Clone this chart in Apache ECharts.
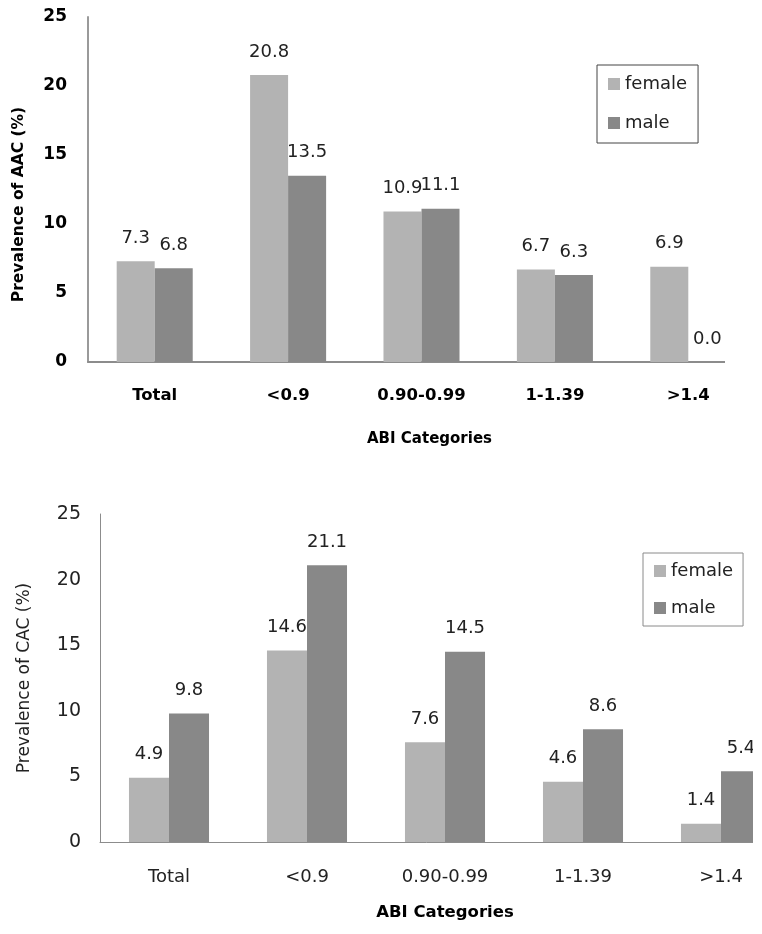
<!DOCTYPE html>
<html>
<head>
<meta charset="utf-8">
<script src="https://cdn.jsdelivr.net/npm/echarts@6/dist/echarts.min.js"></script>
<style>
  html, body { margin: 0; padding: 0; background: #fff; }
  #wrap { position: relative; width: 762px; height: 934px; overflow: hidden; }
  #chart-aac { position: absolute; left: 0; top: 0; width: 725px; height: 470px; }
  #chart-cac { position: absolute; left: 0; top: 470px; width: 753px; height: 464px; }
</style>
</head>
<body>
<div id="wrap">
  <div id="chart-aac"></div>
  <div id="chart-cac"></div>
</div>
<script>
// categories
const categoriesAAC = ['Total', '<0.9', '0.90-0.99', '1-1.39', '>1.4'];
const categoriesCAC = ['Total', '<0.9', '0.90-0.99', '1-1.39', '>1.4'];

// prevalence (%)
const aacFemale = [7.3, 20.8, 10.9, 6.7, 6.9];
const aacMale   = [6.8, 13.5, 11.1, 6.3, 0.0];
const cacFemale = [4.9, 14.6, 7.6, 4.6, 1.4];
const cacMale   = [9.8, 21.1, 14.5, 8.6, 5.4];

const FEMALE = '#b3b3b3';
const MALE = '#888888';
const FONT = 'DejaVu Sans';

function barSeries(name, data, color, gap) {
  return {
    type: 'bar', name, data,
    itemStyle: { color },
    barGap: 0,
    barCategoryGap: gap,
    label: {
      show: true, position: 'top', distance: 14,
      color: '#222', fontFamily: FONT, fontSize: 18,
      formatter: p => p.value.toFixed(1)
    }
  };
}

// 上圖：AAC（粗體字）
const chartAAC = echarts.init(document.getElementById('chart-aac'));
chartAAC.setOption({
  animation: false,
  grid: { left: 88, top: 17, width: 667, height: 345, outerBoundsMode: 'none' },
  legend: {
    orient: 'vertical', left: 597, top: 65,
    padding: [10, 11, 11, 11], itemGap: 21,
    itemWidth: 12, itemHeight: 12, icon: 'rect',
    borderColor: '#444', borderWidth: 1,
    textStyle: { fontFamily: FONT, fontSize: 18, color: '#222' },
    data: ['female', 'male']
  },
  xAxis: {
    type: 'category', data: categoriesAAC,
    axisLine: { lineStyle: { color: '#8c8c8c', width: 2 } },
    axisTick: { show: false },
    axisLabel: { margin: 25, color: '#000', fontFamily: FONT, fontWeight: 'bold', fontSize: 16.5 },
    name: 'ABI Categories', nameLocation: 'middle', nameGap: 70,
    nameTextStyle: { color: '#000', fontFamily: FONT, fontWeight: 'bold', fontSize: 15, padding: [0, 0, 0, 16] }
  },
  yAxis: {
    type: 'value', min: 0, max: 25, interval: 5,
    axisLine: { show: true, lineStyle: { color: '#9a9a9a', width: 2 } },
    axisTick: { show: false },
    splitLine: { show: false },
    axisLabel: { margin: 21, color: '#000', fontFamily: FONT, fontWeight: 'bold', fontSize: 17 },
    name: 'Prevalence of AAC (%)', nameLocation: 'middle', nameGap: 61,
    nameTextStyle: { color: '#000', fontFamily: FONT, fontWeight: 'bold', fontSize: 15.5, padding: [0, 30, 0, 0] }
  },
  series: [
    barSeries('female', aacFemale, FEMALE, '43%'),
    barSeries('male', aacMale, MALE, '43%')
  ]
});

// 下圖：CAC
const chartCAC = echarts.init(document.getElementById('chart-cac'));
chartCAC.setOption({
  animation: false,
  grid: { left: 100, top: 44, width: 690, height: 328, outerBoundsMode: 'none' },
  legend: {
    orient: 'vertical', left: 643, top: 83,
    padding: [9, 10, 9, 11], itemGap: 19,
    itemWidth: 12, itemHeight: 12, icon: 'rect',
    borderColor: '#8a8a8a', borderWidth: 1,
    textStyle: { fontFamily: FONT, fontSize: 18, color: '#222' },
    data: ['female', 'male']
  },
  xAxis: {
    type: 'category', data: categoriesCAC,
    axisLine: { lineStyle: { color: '#8c8c8c', width: 1 } },
    axisTick: { show: false },
    axisLabel: { margin: 26, color: '#222', fontFamily: FONT, fontSize: 18 },
    name: 'ABI Categories', nameLocation: 'middle', nameGap: 62,
    nameTextStyle: { color: '#000', fontFamily: FONT, fontWeight: 'bold', fontSize: 16.5 }
  },
  yAxis: {
    type: 'value', min: 0, max: 25, interval: 5,
    axisLine: { show: true, lineStyle: { color: '#8c8c8c', width: 1 } },
    axisTick: { show: false },
    splitLine: { show: false },
    axisLabel: { margin: 19, color: '#222', fontFamily: FONT, fontSize: 19 },
    name: 'Prevalence of CAC (%)', nameLocation: 'middle', nameGap: 67,
    nameTextStyle: { color: '#222', fontFamily: FONT, fontSize: 17 }
  },
  series: [
    barSeries('female', cacFemale, FEMALE, '42%'),
    barSeries('male', cacMale, MALE, '42%')
  ]
});
</script>
</body>
</html>
